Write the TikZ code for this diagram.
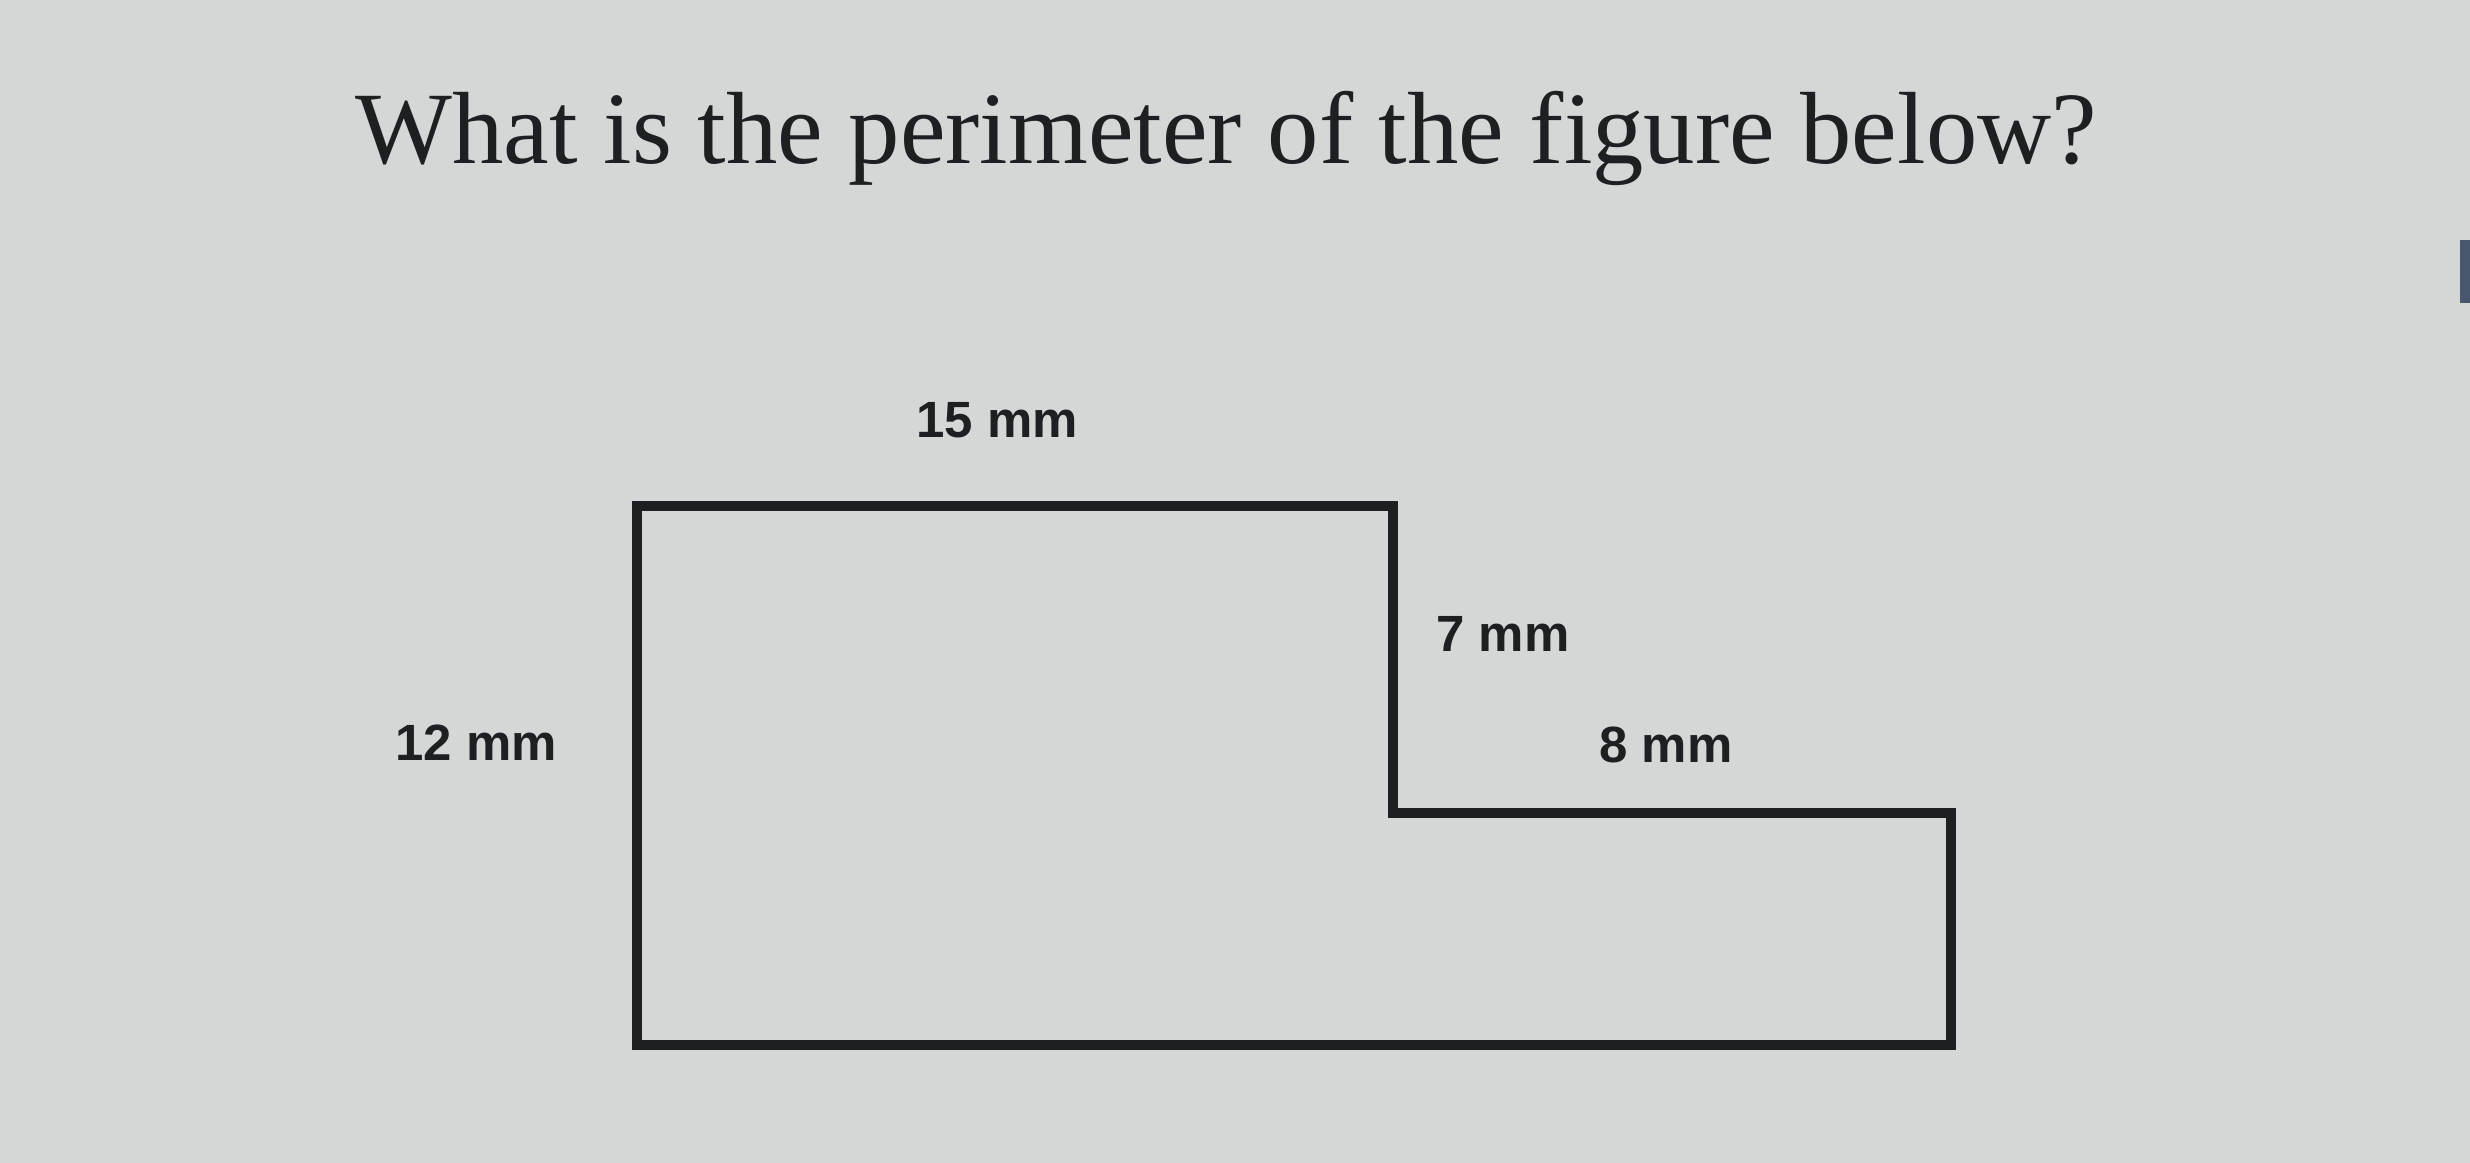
\documentclass[tikz,border=0pt]{standalone}
\usepackage{amsmath}
\usepackage{amssymb}
\usepackage{fontspec}
\setmainfont{Liberation Serif}
\newfontfamily\labelfont{Liberation Sans}
\usepackage{tikz}

\definecolor{screen}{RGB}{213,215,215}
\definecolor{ink}{RGB}{30,31,34}
\definecolor{bar}{RGB}{72,86,110}

\tikzset{
	lbl/.style={font=\labelfont\bfseries\fontsize{14.5}{16}\selectfont, text=ink, inner sep=0pt},
	edge/.style={draw=ink, line width=3pt, line join=miter}
}

\begin{document}
\begin{tikzpicture}
		\fill[screen] (0, 0) rectangle (24.7, -11.63);
		\useasboundingbox (0, 0) rectangle (24.7, -11.63);
		\node[anchor=base west, inner sep=0pt, text=ink, font=\fontsize{29.2}{34}\selectfont] (Title) at (3.55, -1.63) {What is the perimeter of the figure below?};
		\fill[bar] (24.6, -2.4) rectangle (24.7, -3.03);
		\coordinate (A) at (6.37, -5.06);
		\coordinate (B) at (13.93, -5.06);
		\coordinate (C) at (13.93, -8.13);
		\coordinate (D) at (19.51, -8.13);
		\coordinate (E) at (19.51, -10.45);
		\coordinate (F) at (6.37, -10.45);
		\draw[edge] (A) -- (B) -- (C) -- (D) -- (E) -- (F) -- cycle;
		\node[lbl] (Top) at (9.97, -4.2) {15 mm};
		\node[lbl] (Left) at (4.76, -7.43) {12 mm};
		\node[lbl] (Step) at (15.03, -6.34) {7 mm};
		\node[lbl] (Ledge) at (16.66, -7.45) {8 mm};
	\end{tikzpicture}
\end{document}
